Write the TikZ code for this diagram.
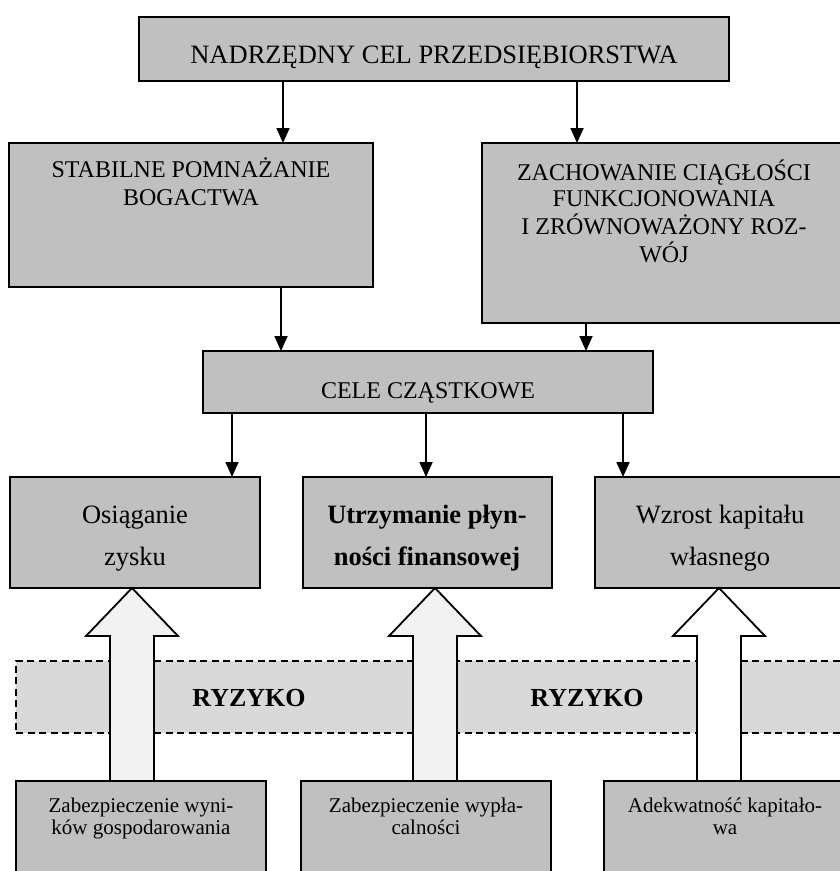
\documentclass[tikz,border=0pt]{standalone}
\usepackage{fontspec}
\setmainfont{Liberation Serif}
\usetikzlibrary{arrows.meta,calc}
\definecolor{boxgray}{HTML}{C0C0C0}
\definecolor{bandgray}{HTML}{D9D9D9}
\definecolor{arrowgray}{HTML}{F2F2F2}
\begin{document}
\begin{tikzpicture}[x=1pt,y=-1pt,
  box/.style={draw=black, line width=1.8pt, fill=boxgray, rectangle, inner sep=0pt, outer sep=0pt, anchor=north west},
  arr/.style={line width=1.8pt, -{Triangle[width=13pt,length=15pt]}},
  txt/.style={anchor=base, inner sep=0pt},
  capsfont/.style={font=\fontsize{24}{28}\selectfont},
  midfont/.style={font=\fontsize{26.5}{42}\selectfont},
  smallfont/.style={font=\fontsize{21}{22.5}\selectfont},
  band/.style={draw=black, line width=1.3pt, dash pattern=on 7pt off 4.5pt, fill=bandgray, rectangle, inner sep=0pt, outer sep=0pt, anchor=north west},
  hollow/.style={draw=black, line width=1.8pt, line join=miter}]
\useasboundingbox (0,0) rectangle (840,871);

% boxes
\node[box, minimum width=590pt, minimum height=64pt] (top) at (139,17) {};
\node[box, minimum width=364pt, minimum height=144pt] (stab) at (9,143) {};
\node[box, minimum width=364pt, minimum height=180pt] (zach) at (482,143) {};
\node[box, minimum width=450pt, minimum height=62pt] (cele) at (203,351) {};
\node[box, minimum width=250pt, minimum height=111pt] (osi) at (10,477) {};
\node[box, minimum width=249pt, minimum height=111pt] (utrz) at (303,477) {};
\node[box, minimum width=251pt, minimum height=111pt] (wzr) at (595,477) {};
\node[box, minimum width=250pt, minimum height=100pt] (zab1) at (16,781) {};
\node[box, minimum width=250pt, minimum height=100pt] (zab2) at (301,781) {};
\node[box, minimum width=242pt, minimum height=100pt] (adek) at (604,781) {};

% risk band
\node[band, minimum width=830pt, minimum height=72pt] (band) at (16,661) {};

% texts
\node[txt, font=\fontsize{26.5}{28}\selectfont] (toptext) at (434,63) {NADRZĘDNY CEL PRZEDSIĘBIORSTWA};
\node[txt, capsfont] (stabtext) at (191,177) {\begin{tabular}[t]{@{}c@{}}STABILNE POMNAŻANIE\\BOGACTWA\end{tabular}};
\node[txt, font=\fontsize{24}{26}\selectfont] (zachtext) at (664,180) {\begin{tabular}[t]{@{}c@{}}ZACHOWANIE CIĄGŁOŚCI\\FUNKCJONOWANIA\\I ZRÓWNOWAŻONY ROZ-\\WÓJ\end{tabular}};
\node[txt, capsfont] (celetext) at (428,398) {CELE CZĄSTKOWE};
\node[txt, midfont] (ositext) at (135,523) {\begin{tabular}[t]{@{}c@{}}Osiąganie\\zysku\end{tabular}};
\node[txt, font=\bfseries\fontsize{26.5}{42}\selectfont] (utrztext) at (427,523) {\begin{tabular}[t]{@{}c@{}}Utrzymanie płyn-\\ności finansowej\end{tabular}};
\node[txt, midfont] (wzrtext) at (720,523) {\begin{tabular}[t]{@{}c@{}}Wzrost kapitału\\własnego\end{tabular}};
\node[txt, smallfont] (zab1text) at (141,812) {\begin{tabular}[t]{@{}c@{}}Zabezpieczenie wyni-\\ków gospodarowania\end{tabular}};
\node[txt, smallfont] (zab2text) at (426,812) {\begin{tabular}[t]{@{}c@{}}Zabezpieczenie wypła-\\calności\end{tabular}};
\node[txt, smallfont] (adektext) at (725,812) {\begin{tabular}[t]{@{}c@{}}Adekwatność kapitało-\\wa\end{tabular}};

% connectors
\draw[arr] ([xshift=144pt]top.south west) -- ([xshift=274pt]stab.north west);
\draw[arr] ([xshift=438pt]top.south west) -- ([xshift=95pt]zach.north west);
\draw[arr] ([xshift=272pt]stab.south west) -- ([xshift=78pt]cele.north west);
\draw[arr] ([xshift=104pt]zach.south west) -- ([xshift=383pt]cele.north west);
\draw[arr] ([xshift=29pt]cele.south west) -- ([xshift=222pt]osi.north west);
\draw[arr] ([xshift=223pt]cele.south west) -- ([xshift=123pt]utrz.north west);
\draw[arr] ([xshift=420pt]cele.south west) -- ([xshift=28pt]wzr.north west);

% hollow arrows
\coordinate (t1) at ($(osi.south west)+(122,0)$);
\coordinate (t2) at ($(utrz.south west)+(132,0)$);
\coordinate (t3) at ($(wzr.south west)+(124,0)$);
\draw[hollow, fill=arrowgray] (t1) -- ++(46,48) -- ++(-24,0) -- ($(t1 |- zab1.north)+(22,0)$) -- ($(t1 |- zab1.north)+(-22,0)$) -- ($(t1)+(-22,48)$) -- ++(-24,0) -- cycle;
\draw[hollow, fill=arrowgray] (t2) -- ++(46,48) -- ++(-24,0) -- ($(t2 |- zab2.north)+(22,0)$) -- ($(t2 |- zab2.north)+(-22,0)$) -- ($(t2)+(-22,48)$) -- ++(-24,0) -- cycle;
\draw[hollow, fill=white] (t3) -- ++(46,48) -- ++(-24,0) -- ($(t3 |- adek.north)+(22,0)$) -- ($(t3 |- adek.north)+(-22,0)$) -- ($(t3)+(-22,48)$) -- ++(-24,0) -- cycle;

% risk labels
\node[txt, font=\bfseries\fontsize{26}{30}\selectfont] (ryz1) at (249,706) {RYZYKO};
\node[txt, font=\bfseries\fontsize{26}{30}\selectfont] (ryz2) at (587,706) {RYZYKO};
\end{tikzpicture}
\end{document}
